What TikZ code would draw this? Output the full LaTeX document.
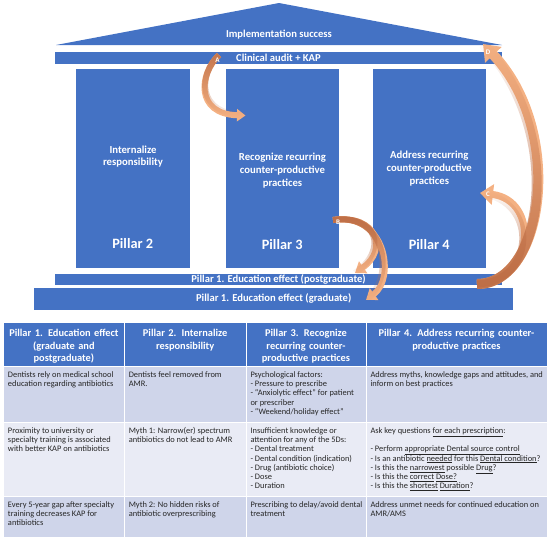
\documentclass[tikz,border=0pt]{standalone}
\usepackage{fontspec}
\setmainfont{Carlito}
\usetikzlibrary{positioning,arrows.meta,fadings}

\definecolor{pblue}{RGB}{68,114,196}
\definecolor{rowdark}{RGB}{207,213,234}
\definecolor{rowlight}{RGB}{233,235,245}
\definecolor{peach}{RGB}{244,177,131}
\definecolor{rust}{RGB}{190,110,70}
\tikzfading[name=tail top, top color=transparent!10, middle color=transparent!85, bottom color=transparent!100]
\tikzfading[name=tail bottom, top color=transparent!100, middle color=transparent!85, bottom color=transparent!10]

\begin{document}
\begin{tikzpicture}[x=1pt, y=-1pt,
  slab/.style={fill=pblue, text=white, inner sep=0pt, font=\fontsize{10.6}{12}\selectfont\bfseries},
  pillar/.style={fill=pblue, inner sep=0pt, minimum width=113.5pt, minimum height=199.5pt},
  ptext/.style={text=white, align=center, inner sep=0pt, font=\fontsize{10.7}{12.8}\selectfont\bfseries},
  pnum/.style={text=white, inner sep=0pt, font=\fontsize{14.3}{16}\selectfont\bfseries},
  hcell/.style={anchor=north, align=center, inner sep=0pt, text=white, font=\fontsize{10.4}{12.3}\selectfont\bfseries},
  cell/.style={anchor=north west, align=left, inner sep=0pt, text=black!85, font=\fontsize{8.4}{9.3}\selectfont},
  tag/.style={text=white, inner sep=0pt, font=\fontsize{7}{8}\selectfont\bfseries},
  swoop/.style={draw=peach, line width=#1},
  shadow/.style={draw=rust, line width=#1}]
\useasboundingbox (0,0) rectangle (550,541);

% temple
\fill[pblue] (56,45) -- (279,3) -- (502,45) -- cycle;
\node[slab, fill=none] (roof) at (279,35) {Implementation success};
\node[slab, minimum width=447pt, minimum height=11.5pt] (audit) at (278.5,57.75) {Clinical audit + KAP};
\node[pillar] (p2) at (132.75,168.25) {};
\node[pillar] (p3) at (282.25,168.25) {};
\node[pillar] (p4) at (429.25,168.25) {};
\node[ptext] (t2) at (133,156.5) {Internalize\\responsibility};
\node[ptext] (t3) at (282.5,170.5) {Recognize recurring\\counter-productive\\practices};
\node[ptext] (t4) at (429.3,168.5) {Address recurring\\counter-productive\\practices};
\node[pnum, above=19.5pt of p2.south] (n2) {Pillar 2};
\node[pnum, above=18pt of p3.south] (n3) {Pillar 3};
\node[pnum, above=18pt of p4.south] (n4) {Pillar 4};
\node[slab, minimum width=447pt, minimum height=11pt] (post) at (278.5,279) {Pillar 1. Education effect (postgraduate)};
\node[slab, minimum width=478.6pt, minimum height=22pt] (grad) at (273.7,298.5) {Pillar 1. Education effect (graduate)};

% feedback arrows
\coordinate (A0) at (219,55);   \coordinate (A1) at (245.5,115.5);
\coordinate (B0) at (333,220);  \coordinate (B1) at (355,273);  \coordinate (B2) at (366,300);
\coordinate (CD0) at (477,284); \coordinate (C1) at (480,193);  \coordinate (D1) at (483,44);
\draw[swoop=6pt, -{Triangle[length=8.5pt,width=12pt]}] (A0) .. controls (199,74) and (195,114) .. (A1);
\draw[shadow=6pt, path fading=tail top] (A0) .. controls (199,74) and (195,114) .. (A1);
\draw[swoop=6pt, -{Triangle[length=10pt,width=14pt]}] (B0) .. controls (386,212) and (396,278) .. (B2);
\draw[swoop=6pt, -{Triangle[length=10pt,width=14pt]}] (B0) .. controls (378,214) and (388,250) .. (B1);
\draw[shadow=6pt, path fading=tail top] (B0) .. controls (386,212) and (396,278) .. (B2);
\draw[shadow=6pt, path fading=tail top] (B0) .. controls (378,214) and (388,250) .. (B1);
\draw[swoop=10pt, -{Triangle[length=15pt,width=22pt]}] (CD0) .. controls (545,284) and (565,130) .. (D1);
\draw[swoop=7pt, -{Triangle[length=13pt,width=20pt]}] (CD0) .. controls (535,282) and (540,200) .. (C1);
\draw[shadow=10pt, path fading=tail bottom] (CD0) .. controls (545,284) and (565,130) .. (D1);
\draw[shadow=7pt, path fading=tail bottom] (CD0) .. controls (535,282) and (540,200) .. (C1);
\node[tag] (tA) at (217.5,60.5) {A};
\node[tag] (tB) at (338,222.5) {B};
\node[tag] (tC) at (488,194.5) {C};
\node[tag] (tD) at (488,52) {D};

% table
\fill[pblue] (3.5,323.3) rectangle (547,366.7);
\fill[rowdark] (3.5,366.7) rectangle (547,422.7);
\fill[rowlight] (3.5,422.7) rectangle (547,496.7);
\fill[rowdark] (3.5,496.7) rectangle (547,537.3);
\foreach \x in {124.3,246,366} \draw[white, line width=0.8pt] (\x,323.3) -- (\x,537.3);
\foreach \y in {366.7,422.7,496.7} \draw[white, line width=0.8pt] (3.5,\y) -- (547,\y);

\node[hcell, text width=116pt] (h1) at (63.9,329.3) {Pillar 1. Education effect\\(graduate and\\postgraduate)};
\node[hcell, text width=116pt] (h2) at (185.15,329.3) {Pillar 2. Internalize\\responsibility};
\node[hcell, text width=116pt] (h3) at (306,329.3) {Pillar 3. Recognize\\recurring counter-\\productive practices};
\node[hcell, text width=176pt] (h4) at (456.5,329.3) {Pillar 4. Address recurring counter-\\productive practices};

\node[cell] (r11) at (7.8,371.1) {Dentists rely on medical school\\education regarding antibiotics};
\node[cell] (r12) at (128.6,371.1) {Dentists feel removed from\\AMR.};
\node[cell] (r13) at (250.3,371.1) {Psychological factors:\\- Pressure to prescribe\\- “Anxiolytic effect” for patient\\or prescriber\\- “Weekend/holiday effect”};
\node[cell] (r14) at (370.3,371.1) {Address myths, knowledge gaps and attitudes, and\\inform on best practices};

\node[cell] (r21) at (7.8,427.1) {Proximity to university or\\specialty training is associated\\with better KAP on antibiotics};
\node[cell] (r22) at (128.6,427.1) {Myth 1: Narrow(er) spectrum\\antibiotics do not lead to AMR};
\node[cell] (r23) at (250.3,427.1) {Insufficient knowledge or\\attention for any of the 5Ds:\\- Dental treatment\\- Dental condition (indication)\\- Drug (antibiotic choice)\\- Dose\\- Duration};
\node[cell] (r24) at (370.3,427.1) {Ask key questions \underline{for each prescription}:\\[9.3pt]- Perform \underline{appropriate Dental source control}\\- Is an antibiotic \underline{needed} for this \underline{Dental condition}?\\- Is this the \underline{narrowest} possible \underline{Drug}?\\- Is this the \underline{correct} \underline{Dose?}\\- Is this the \underline{shortest} \underline{Duration}?};

\node[cell] (r31) at (7.8,501.1) {Every 5-year gap after specialty\\training decreases KAP for\\antibiotics};
\node[cell] (r32) at (128.6,501.1) {Myth 2: No hidden risks of\\antibiotic overprescribing};
\node[cell] (r33) at (250.3,501.1) {Prescribing to delay/avoid dental\\treatment};
\node[cell] (r34) at (370.3,501.1) {Address unmet needs for continued education on\\AMR/AMS};
\end{tikzpicture}
\end{document}
